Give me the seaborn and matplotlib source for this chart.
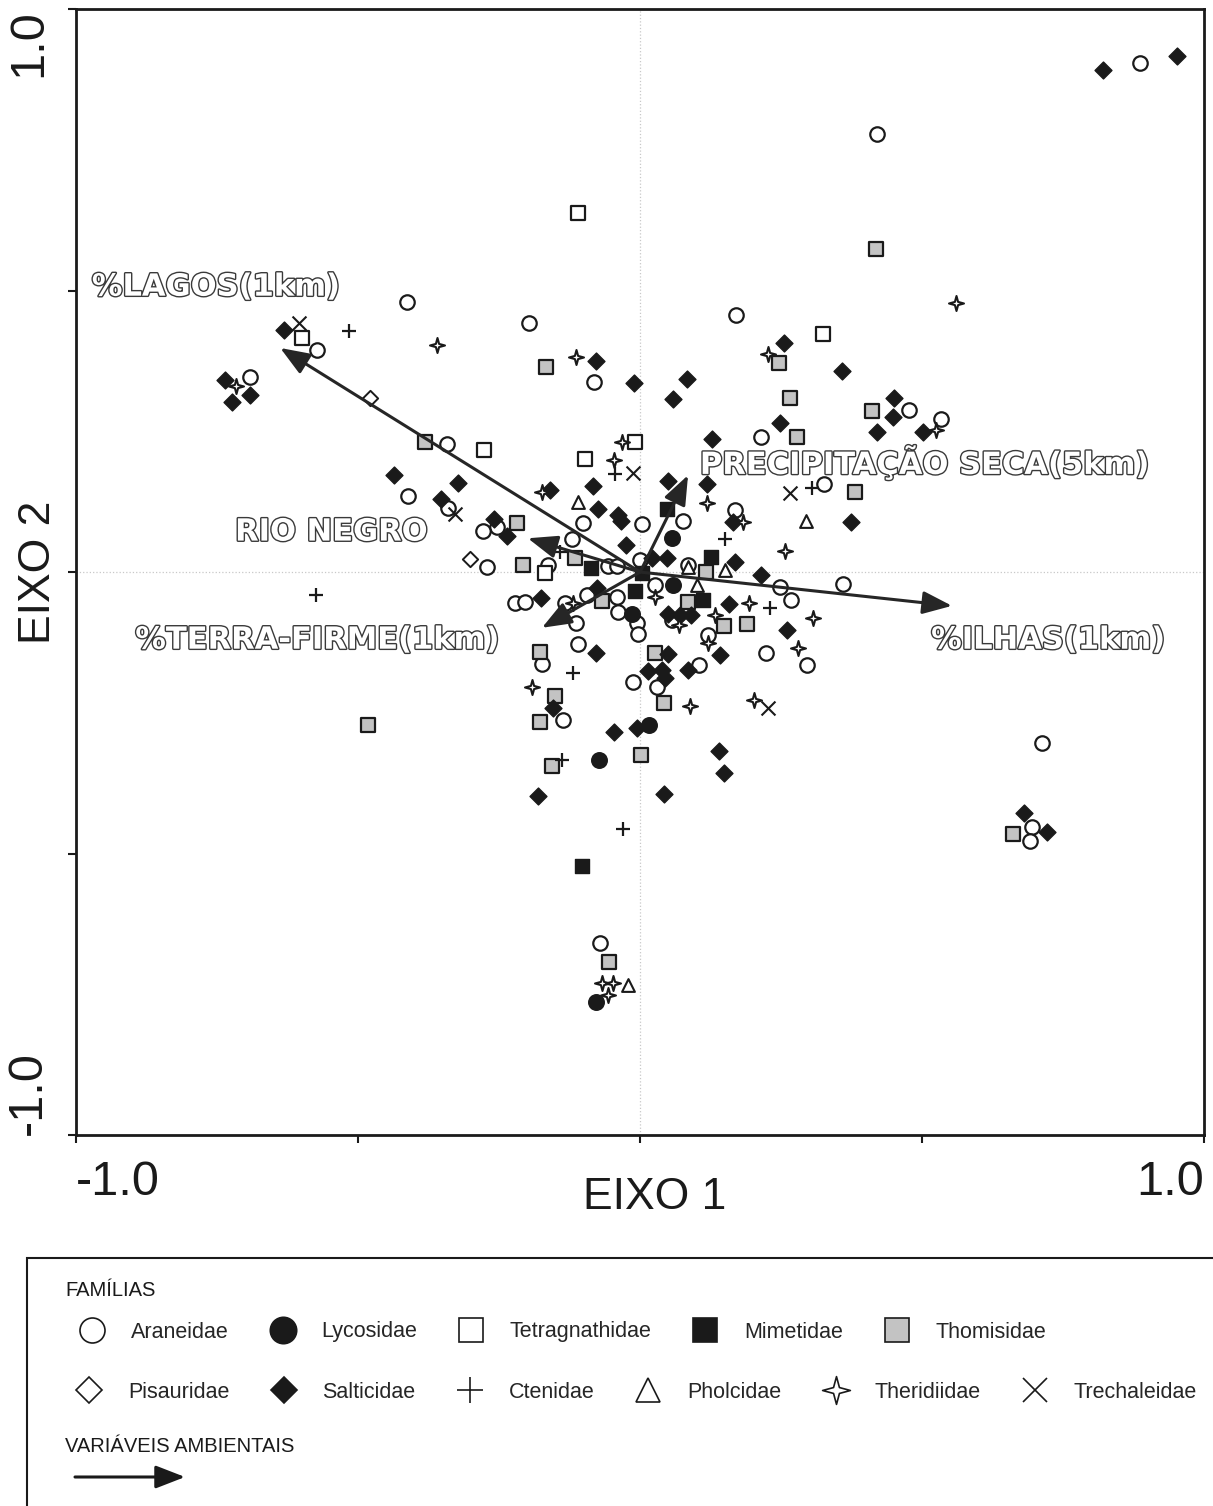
import numpy as np
import pandas as pd
import matplotlib
matplotlib.use("Agg")
import matplotlib.pyplot as plt
import matplotlib.patheffects as pe
from matplotlib.path import Path
from matplotlib.lines import Line2D
from matplotlib.patches import FancyArrowPatch, Rectangle
import seaborn as sns

# ── scores of the families on the two ordination axes (EIXO 1, EIXO 2) ──
araneidae = [
    (0.887, 0.904), (0.420, 0.778), (-0.413, 0.480), (-0.197, 0.442), (0.170, 0.456),
    (-0.082, 0.337), (-0.342, 0.227), (0.215, 0.240), (-0.573, 0.394), (-0.691, 0.346),
    (0.477, 0.288), (0.534, 0.272), (-0.411, 0.135), (-0.340, 0.114), (-0.254, 0.080),
    (-0.278, 0.073), (-0.271, 0.009), (-0.163, 0.012), (-0.222, -0.055), (-0.204, -0.053),
    (-0.101, 0.087), (0.004, 0.085), (0.076, 0.091), (0.168, 0.110), (-0.121, 0.059),
    (-0.057, 0.011), (-0.041, 0.011), (0.000, 0.021), (0.085, 0.012), (-0.094, -0.041),
    (0.027, -0.023), (-0.041, -0.044), (-0.133, -0.055), (-0.039, -0.071), (-0.005, -0.091),
    (0.057, -0.085), (-0.113, -0.091), (-0.004, -0.110), (0.121, -0.112), (-0.110, -0.128),
    (0.030, -0.204), (-0.012, -0.195), (0.105, -0.165), (0.223, -0.144), (-0.137, -0.263),
    (-0.174, -0.163), (0.326, 0.156), (0.248, -0.027), (0.360, -0.021), (0.268, -0.050),
    (0.296, -0.165), (0.713, -0.304), (0.695, -0.453), (0.691, -0.478), (-0.071, -0.659),
]
lycosidae = [
    (0.057, 0.060), (0.059, -0.023), (-0.014, -0.075), (0.016, -0.272), (-0.073, -0.334),
    (-0.078, -0.764),
]
tetragnathidae = [
    (-0.110, 0.638), (-0.599, 0.416), (-0.277, 0.217), (-0.009, 0.231), (-0.098, 0.201),
    (0.324, 0.423), (-0.168, -0.002),
]
mimetidae = [
    (0.048, 0.112), (-0.087, 0.007), (0.004, -0.002), (0.126, 0.027), (-0.009, -0.034),
    (0.112, -0.050), (-0.103, -0.522),
]
thomisidae = [
    (0.418, 0.574), (-0.167, 0.364), (-0.381, 0.231), (0.246, 0.371), (0.266, 0.309),
    (0.278, 0.240), (0.411, 0.286), (0.381, 0.142), (-0.218, 0.087), (-0.207, 0.012),
    (-0.115, 0.025), (0.117, 0.000), (-0.067, -0.052), (0.085, -0.053), (0.149, -0.096),
    (0.190, -0.092), (0.027, -0.144), (0.043, -0.233), (-0.177, -0.142), (-0.177, -0.266),
    (-0.151, -0.220), (-0.482, -0.272), (-0.156, -0.345), (0.002, -0.325), (0.661, -0.465),
    (-0.055, -0.693),
]
pisauridae = [(-0.479, 0.309), (-0.301, 0.023)]
salticidae = [
    (0.821, 0.892), (0.952, 0.917), (-0.631, 0.430), (-0.736, 0.341), (-0.723, 0.302),
    (-0.691, 0.314), (-0.078, 0.375), (-0.011, 0.336), (0.083, 0.343), (0.059, 0.307),
    (0.128, 0.236), (0.255, 0.407), (0.358, 0.357), (0.248, 0.265), (0.450, 0.309),
    (0.449, 0.275), (0.420, 0.249), (0.502, 0.249), (-0.436, 0.172), (-0.323, 0.158),
    (-0.353, 0.130), (-0.160, 0.146), (-0.259, 0.094), (-0.236, 0.064), (-0.176, -0.046),
    (0.050, 0.162), (0.119, 0.156), (-0.083, 0.153), (-0.074, 0.112), (-0.039, 0.101),
    (-0.034, 0.091), (0.165, 0.089), (-0.025, 0.048), (0.021, 0.025), (0.048, 0.025),
    (0.168, 0.018), (0.215, -0.005), (-0.076, -0.028), (0.158, -0.057), (0.050, -0.075),
    (0.071, -0.076), (0.090, -0.076), (-0.078, -0.144), (0.050, -0.146), (0.014, -0.176),
    (0.039, -0.174), (0.044, -0.188), (0.085, -0.174), (0.142, -0.147), (-0.154, -0.242),
    (-0.046, -0.284), (-0.005, -0.277), (0.140, -0.318), (0.149, -0.357), (0.043, -0.394),
    (-0.181, -0.398), (0.374, 0.089), (0.261, -0.103), (0.681, -0.428), (0.722, -0.462),
]
ctenidae = [
    (-0.516, 0.428), (-0.574, -0.041), (-0.044, 0.174), (-0.142, 0.036), (0.151, 0.059),
    (0.230, -0.064), (0.305, 0.149), (-0.119, -0.179), (-0.138, -0.334), (-0.030, -0.456),
]
pholcidae = [
    (-0.110, 0.124), (0.085, 0.009), (0.151, 0.004), (0.101, -0.023), (0.294, 0.091),
    (-0.021, -0.734),
]
theridiidae = [
    (-0.360, 0.403), (-0.716, 0.330), (-0.113, 0.382), (-0.032, 0.231), (-0.046, 0.199),
    (-0.174, 0.142), (0.119, 0.123), (0.183, 0.089), (-0.119, -0.055), (0.027, -0.044),
    (0.193, -0.055), (0.069, -0.094), (0.133, -0.076), (0.089, -0.238), (0.202, -0.227),
    (-0.191, -0.204), (0.280, -0.135), (0.307, -0.082), (0.257, 0.037), (0.227, 0.387),
    (0.560, 0.478), (0.525, 0.252), (-0.067, -0.730), (-0.048, -0.730), (-0.057, -0.751),
    (0.121, -0.126),
]
trechaleidae = [
    (-0.605, 0.442), (-0.012, 0.176), (-0.328, 0.103), (0.266, 0.140), (0.227, -0.242),
]

# environmental vectors (arrow tips) and their labels
env_names = ["%LAGOS(1km)", "PRECIPITAÇÃO SECA(5km)", "RIO NEGRO",
             "%TERRA-FIRME(1km)", "%ILHAS(1km)"]
env_x = [-0.638, 0.085, -0.199, -0.174, 0.553]
env_y = [0.398, 0.172, 0.060, -0.099, -0.060]
env_label_xy = [(-0.972, 0.506), (0.106, 0.194), (-0.718, 0.071),
                (-0.895, -0.121), (0.516, -0.121)]

TICKS = [-1.0, -0.5, 0.0, 0.5, 1.0]
TICK_LABELS = ["-1.0", "", "", "", "1.0"]

INK = "#1a1a1a"
GRAY = "#c3c3c3"

# thin four-pointed star for Theridiidae
_ang = np.linspace(0, 2 * np.pi, 9)[:-1] + np.pi / 2
_rad = np.where(np.arange(8) % 2 == 0, 1.0, 0.30)
_verts = np.column_stack([_rad * np.cos(_ang), _rad * np.sin(_ang)]).tolist()
STAR = Path(_verts + [_verts[0]], closed=True)

# name -> (points, marker, size in plot, face, line width, size in legend)
FAMILIES = {
    "Araneidae":      (araneidae, "o", 10.4, "white", 1.6, 18),
    "Lycosidae":      (lycosidae, "o", 11.2, INK, 1.0, 19),
    "Tetragnathidae": (tetragnathidae, "s", 10.0, "white", 1.6, 17),
    "Mimetidae":      (mimetidae, "s", 10.6, INK, 1.0, 17),
    "Thomisidae":     (thomisidae, "s", 10.0, GRAY, 1.6, 17),
    "Pisauridae":     (pisauridae, "D", 7.8, "white", 1.4, 13),
    "Salticidae":     (salticidae, "D", 8.6, INK, 1.0, 13),
    "Ctenidae":       (ctenidae, "+", 10.0, None, 1.6, 19),
    "Pholcidae":      (pholcidae, "^", 9.2, "white", 1.5, 17),
    "Theridiidae":    (theridiidae, STAR, 10.8, "white", 1.5, 20),
    "Trechaleidae":   (trechaleidae, "x", 10.0, None, 1.5, 17),
}

frames = []
for name, (pts, *_rest) in FAMILIES.items():
    arr = np.array(pts)
    frames.append(pd.DataFrame({"familia": name, "eixo1": arr[:, 0], "eixo2": arr[:, 1]}))
df = pd.concat(frames, ignore_index=True)

sns.set_style("ticks")
plt.rcParams["font.family"] = ["Liberation Sans", "DejaVu Sans"]

fig = plt.figure(figsize=(12.13, 15.06), dpi=100)
ax = fig.add_axes([0.0627, 0.2463, 0.9300, 0.7477])

ax.axhline(0, color="#c8c8c8", lw=0.9, ls=":", zorder=1)
ax.axvline(0, color="#c8c8c8", lw=0.9, ls=":", zorder=1)

for name, (pts, marker, ms, face, lw, _) in FAMILIES.items():
    sub = df[df["familia"] == name]
    kw = dict(data=sub, x="eixo1", y="eixo2", marker=marker, s=ms ** 2,
              linewidth=lw, zorder=3, legend=False, ax=ax)
    if face is None:
        sns.scatterplot(color=INK, **kw)
    else:
        sns.scatterplot(color=face, edgecolor=INK, **kw)

# environmental arrows
for name, x, y, (lx, ly) in zip(env_names, env_x, env_y, env_label_xy):
    ax.annotate("", xy=(x, y), xytext=(0, 0),
                arrowprops=dict(arrowstyle="-|>,head_length=0.9,head_width=0.35",
                                lw=2.2, color="#262626", shrinkA=0, shrinkB=0,
                                mutation_scale=20),
                zorder=5)
    ax.text(lx, ly, name, fontsize=22, fontweight="bold", family="DejaVu Sans",
            color="white", ha="left", va="center", zorder=6,
            path_effects=[pe.withStroke(linewidth=2.0, foreground="#3a3a3a")])

ax.set_xlim(-1, 1)
ax.set_ylim(-1, 1)
ax.set_xticks(TICKS, TICK_LABELS)
ax.set_yticks(TICKS, TICK_LABELS)
ax.tick_params(direction="out", length=6, width=1.5, color=INK, labelsize=35,
               labelcolor=INK, pad=12)
xl = ax.get_xticklabels()
xl[0].set_ha("left")
xl[-1].set_ha("right")
yl = ax.get_yticklabels()
for t in yl:
    t.set_rotation(90)
yl[0].set_va("bottom")
yl[-1].set_va("top")

ax.set_xlabel("EIXO 1", fontsize=32, color=INK)
ax.set_ylabel("EIXO 2", fontsize=32, color=INK)
ax.xaxis.set_label_coords(0.513, -0.055)
ax.xaxis.label.set_va("center")
ax.yaxis.set_label_coords(-0.033, 0.5)
ax.yaxis.label.set_va("center")
for sp in ax.spines.values():
    sp.set_linewidth(2.0)
    sp.set_color(INK)

# ── legend panel ──
fig.add_artist(Rectangle((27 / 1213, -0.01), 1.0, (1506 - 1258) / 1506 + 0.01,
                         transform=fig.transFigure, fill=False, lw=1.5, ec=INK))
fig.text(65 / 1213, (1506 - 1290) / 1506, "FAMÍLIAS", fontsize=14.5, color=INK,
         ha="left", va="center")
fig.text(65 / 1213, (1506 - 1447) / 1506, "VARIÁVEIS AMBIENTAIS", fontsize=14.5,
         color=INK, ha="left", va="center")


def handle(name):
    _, marker, _, face, lw, lms = FAMILIES[name]
    if face is None:
        return Line2D([], [], ls="none", marker=marker, markersize=lms, color=INK,
                      markeredgewidth=1.2, label=name)
    return Line2D([], [], ls="none", marker=marker, markersize=lms, markerfacecolor=face,
                  markeredgecolor=INK, markeredgewidth=1.2, label=name)


names = list(FAMILIES)
rows = [(names[:5], 1332, 75, 1.7), (names[5:], 1392, 72, 1.72)]
for row, ypix, xpix, colsp in rows:
    fig.legend(handles=[handle(n) for n in row], loc="center left",
               bbox_to_anchor=(xpix / 1213, (1506 - ypix) / 1506), ncol=len(row),
               frameon=False, fontsize=15.5, handlelength=1.6, handletextpad=1.0,
               columnspacing=colsp, borderpad=0, borderaxespad=0)

fig.add_artist(FancyArrowPatch((75 / 1213, (1506 - 1477) / 1506),
                               (185 / 1213, (1506 - 1477) / 1506),
                               transform=fig.transFigure,
                               arrowstyle="-|>,head_length=0.9,head_width=0.35",
                               mutation_scale=20, lw=2.2, color=INK,
                               shrinkA=0, shrinkB=0))

fig.savefig("out.png", dpi=100)
